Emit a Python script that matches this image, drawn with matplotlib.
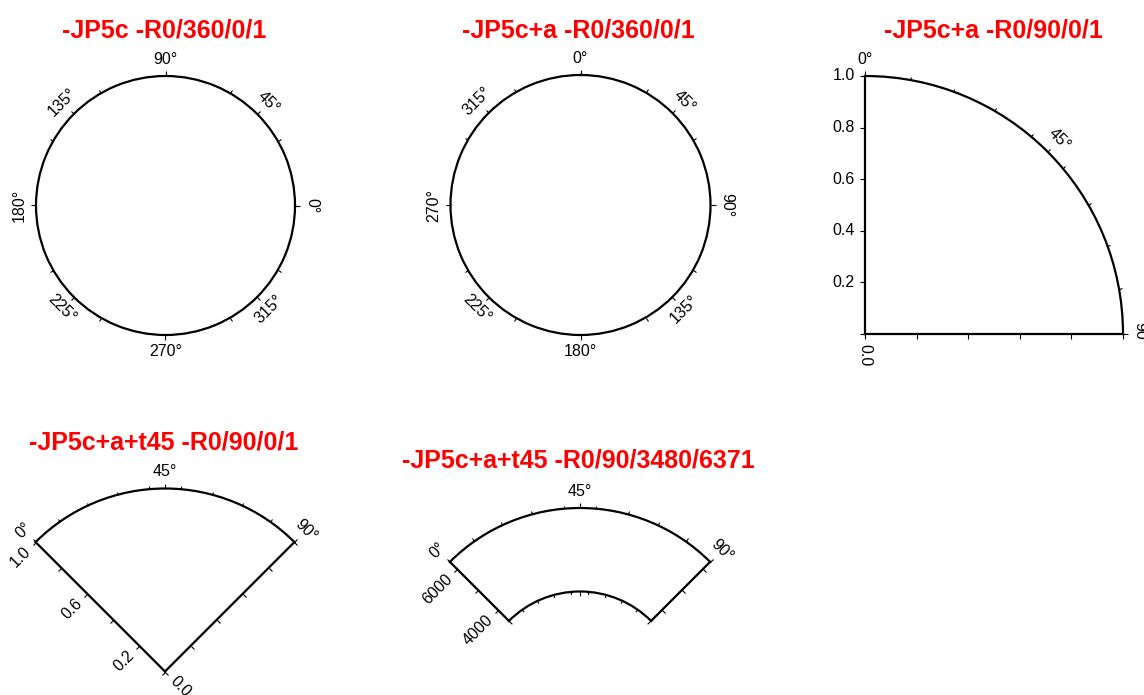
import numpy as np
import matplotlib.pyplot as plt

plt.rcParams["font.family"] = ["Liberation Sans", "DejaVu Sans"]

W, H = 1144, 695

# panel content
titles = ["-JP5c -R0/360/0/1", "-JP5c+a -R0/360/0/1", "-JP5c+a -R0/90/0/1",
          "-JP5c+a+t45 -R0/90/0/1", "-JP5c+a+t45 -R0/90/3480/6371"]
theta_ranges = [(0, 360), (0, 360), (0, 90), (0, 90), (0, 90)]
r_ranges = [(0, 1), (0, 1), (0, 1), (0, 1), (3480, 6371)]
theta_major = [[0, 45, 90, 135, 180, 225, 270, 315],
               [0, 45, 90, 135, 180, 225, 270, 315],
               [0, 45, 90], [0, 45, 90], [0, 45, 90]]
theta_minor = [list(range(0, 360, 30)), list(range(0, 360, 30)),
               list(range(0, 91, 10)), list(range(0, 91, 10)), list(range(0, 91, 10))]
r_ticks = [[], [], [0.0, 0.2, 0.4, 0.6, 0.8, 1.0], [0.0, 0.2, 0.4, 0.6, 0.8, 1.0],
           [4000, 5000, 6000]]
r_labels_start = [[], [], [0.2, 0.4, 0.6, 0.8, 1.0], [0.2, 0.6, 1.0], [4000, 6000]]
r_labels_end = [[], [], [0.0], [0.0], []]
r_fmt = ["{:.1f}", "{:.1f}", "{:.1f}", "{:.1f}", "{:.0f}"]

# projection options (-JP flags)
zero_loc = [("E", 0), ("N", 0), ("N", 0), ("N", 45), ("N", 45)]
direction = [1, -1, -1, -1, -1]

# layout in pixels (centre x, centre y from top, outer radius) and title spots
layout = [(165.5, 205.5, 129.5), (580.5, 205, 130), (865, 334, 258),
          (165, 671.5, 183), (580, 692, 184)]
title_xy = [(164, 30), (578, 30), (993, 30), (164, 442), (578, 461)]

MAJ, MIN = 3.5, 2.2   # tick lengths, points
FS = 11.5

fig = plt.figure(figsize=(W / 100, H / 100), dpi=100)
axes = []
for i in range(5):
    cx, cy, R = layout[i]
    ax = fig.add_axes([(cx - R) / W, 1 - (cy + R) / H, 2 * R / W, 2 * R / H],
                      projection="polar")
    ax.set_theta_zero_location(zero_loc[i][0], offset=zero_loc[i][1])
    ax.set_theta_direction(direction[i])
    ax.set_thetamin(theta_ranges[i][0])
    ax.set_thetamax(theta_ranges[i][1])
    ax.set_rlim(*r_ranges[i])
    ax.set_rorigin(0)
    ax.grid(False)

    ax.set_xticks(np.deg2rad(theta_major[i]), [f"{t}°" for t in theta_major[i]])
    ax.set_xticks(np.deg2rad(theta_minor[i]), minor=True)
    ax.tick_params(axis="x", which="both", direction="out", width=0.8,
                   tick1On=False, tick2On=True, labelrotation="auto")
    ax.tick_params(axis="x", which="major", length=MAJ, pad=1.5, labelsize=FS)
    ax.tick_params(axis="x", which="minor", length=MIN)

    # radial annotations: start edge via major ticks, end edge via minor ticks
    lab1 = [r_fmt[i].format(v) if np.isclose(r_labels_start[i], v).any() else ""
            for v in r_ticks[i]]
    ax.set_yticks(r_ticks[i], lab1)
    ax.set_yticks(r_labels_end[i], [r_fmt[i].format(v) for v in r_labels_end[i]],
                  minor=True)
    ax.yaxis.remove_overlapping_locs = False
    ax.tick_params(axis="y", which="both", direction="out", width=0.8, length=MAJ,
                   pad=4, labelsize=FS, labelrotation="auto")
    ax.tick_params(axis="y", which="major", tick1On=True, tick2On=True,
                   label1On=True, label2On=False)
    ax.tick_params(axis="y", which="minor", tick1On=False, tick2On=False,
                   label1On=False, label2On=True)

    # ticks on an inner arc (annulus), pointing toward the pole
    rin, rout = r_ranges[i]
    if rin > 0:
        per_pt = rout / R * 100 / 72
        minor_only = [t for t in theta_minor[i] if t not in theta_major[i]]
        ax.vlines(np.deg2rad(minor_only), rin - MIN * per_pt, rin, colors="black",
                  linewidth=0.8, clip_on=False)
        ax.vlines(np.deg2rad(theta_major[i]), rin - MAJ * per_pt, rin,
                  colors="black", linewidth=0.8, clip_on=False)

    for sp in ax.spines.values():
        sp.set_linewidth(1.6)
    fig.text(title_xy[i][0] / W, 1 - title_xy[i][1] / H, titles[i],
             ha="center", va="center", fontsize=18, fontweight="bold", color="red")
    axes.append(ax)

# shift/scale each polar axes so its pole and outer radius land where wanted
fig.canvas.draw()
for ax, (cx, cy, R), rr in zip(axes, layout, r_ranges):
    c = ax.transData.transform((0, 0))
    e = ax.transData.transform((np.deg2rad(10), rr[1]))
    s = R / np.hypot(*(e - c))
    pos = ax.get_position()
    x0, y0, w, h = pos.x0 * W, pos.y0 * H, pos.width * W, pos.height * H
    u, v = (c[0] - x0) / w, (c[1] - y0) / h
    w2, h2 = w * s, h * s
    ax.set_position([(cx - u * w2) / W, ((H - cy) - v * h2) / H, w2 / W, h2 / H])

fig.savefig("out.png", dpi=100)
